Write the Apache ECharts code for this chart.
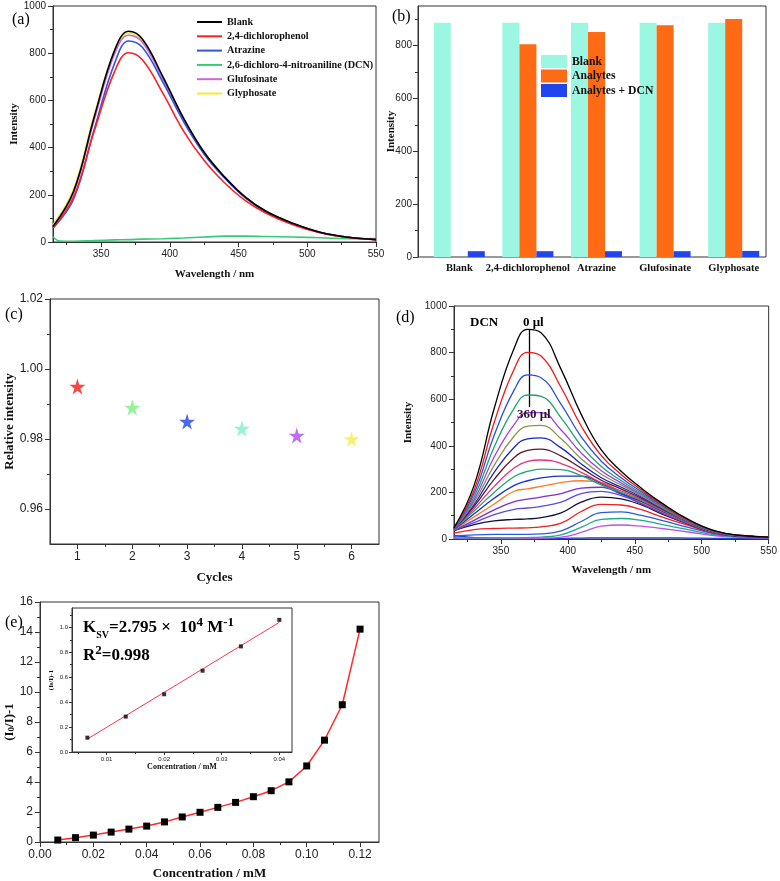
<!DOCTYPE html>
<html><head><meta charset="utf-8">
<script src="https://cdn.jsdelivr.net/npm/echarts@6/dist/echarts.min.js"></script>
<style>html,body{margin:0;padding:0;background:#fff}#c{width:780px;height:881px}</style>
</head><body><div id="c"></div>
<script>
// ---------- DATA ----------
// (a) emission spectra
const wlA = [315,330,345,360,370,380,395,410,425,440,455,470,490,510,530,550];
const blankA = [66,215,530,815,893,860,700,525,380,275,190,130,78,40,20,10];
const dcpA   = [60,190,470,725,802,772,630,470,345,250,175,122,72,38,19,10];
const atzA   = [58,182,478,760,852,825,676,510,372,270,187,128,76,39,20,10];
const glufA  = [64,208,518,800,876,846,690,518,376,272,188,129,77,40,20,10];
const glyA   = [72,225,540,810,885,852,693,520,377,273,189,130,77,40,20,10];
const wlDcnA = [315,320,330,345,360,370,380,395,410,425,440,455,470,490,510,530,550];
const dcnA   = [22,4,3,6,9,10,12,14,17,21,25,25,23,21,18,14,15];
const namesA = ['Blank','2,4-dichlorophenol','Atrazine','2,6-dichloro-4-nitroaniline (DCN)','Glufosinate','Glyphosate'];

// (b) bars
const catsB = ['Blank','2,4-dichlorophenol','Atrazine','Glufosinate','Glyphosate'];
const blankB = [887,887,887,887,887];
const analytesB = [null,805,852,877,901];
const dcnB = [22,22,22,22,23];

// (c) recyclability
const cyclesC = [1,2,3,4,5,6];
const relIntC = [0.995,0.989,0.985,0.983,0.981,0.980];

// (d) titration spectra (0 -> 360 ul DCN)
const wlD = [315,330,345,360,370,380,395,410,425,440,455,470,490,510,530,550];
const titrD = [
  [48,230,560,820,900,885,728,535,382,290,218,155,84,35,15,8],
  [47,210,500,730,801,785,650,485,358,276,210,150,81,34,15,8],
  [46,195,445,640,704,692,578,438,334,262,203,146,79,33,14,8],
  [45,180,395,562,618,612,520,400,311,250,196,142,78,32,14,8],
  [45,168,352,492,542,542,468,369,293,240,190,139,77,31,14,8],
  [44,158,316,442,484,488,430,344,278,231,185,136,76,31,14,8],
  [44,148,286,394,430,434,391,322,263,222,180,133,75,30,14,8],
  [43,140,256,350,380,386,356,304,252,214,175,130,74,30,14,8],
  [42,130,226,306,333,339,324,286,241,206,170,127,73,30,13,8],
  [41,120,200,268,290,300,298,272,232,199,166,124,72,29,13,8],
  [40,108,175,230,250,262,270,270,238,196,161,121,71,29,13,8],
  [39,95,150,205,215,226,242,250,243,198,158,118,70,28,13,8],
  [38,80,125,160,171,180,195,218,222,192,154,114,67,27,13,8],
  [37,70,105,127,133,140,158,195,204,186,151,112,66,27,13,8],
  [36,62,78,84,86,92,112,158,180,172,146,108,64,26,12,8],
  [25,40,45,47,48,52,68,118,149,146,126,95,58,24,12,7],
  [12,18,20,20,20,22,35,75,113,116,101,80,50,22,10,6],
  [6,5,5,5,6,8,18,50,84,88,80,63,40,18,9,5],
  [3,2,2,2,2,3,8,28,55,60,55,45,30,14,7,4],
  [15,6,4,3,3,3,3,4,5,5,5,5,4,3,3,3]
];
const colorsD = ['#000000','#F01818','#2A4FE0','#22A06E','#A040E0','#8C9450','#1428C8','#5A1A2A','#E8307A','#20A868','#1434C8','#FF7A28','#7A30D0','#5A4AE8','#101040','#EE2222','#2A5AE0','#22A890','#C050F0','#2040D0'];
const arrowWl = 371, arrowFrom = 900, arrowTo = 566;

// (e) Stern-Volmer
const concE = [0.00667,0.01333,0.02,0.02667,0.03333,0.04,0.04667,0.05333,0.06,0.06667,0.07333,0.08,0.08667,0.09333,0.1,0.10667,0.11333,0.12];
const quenchE = [0.13,0.29,0.46,0.66,0.86,1.06,1.34,1.67,1.98,2.31,2.64,3.02,3.42,4.01,5.07,6.79,9.15,14.19];
const concIn = [0.00667,0.01333,0.02,0.02667,0.03333,0.04];
const quenchIn = [0.115,0.284,0.463,0.652,0.847,1.06];
const fitX = [0.00667,0.04];
const fitY = [0.104,1.04];

// tick values
const tkA_x=[350,400,450,500,550], mnA_x=[325,375,425,475,525];
const tkA_y=[0,200,400,600,800,1000], mnA_y=[100,300,500,700,900];
const tkB_y=[0,200,400,600,800], mnB_y=[100,300,500,700,900];
const tkC_x=[1,2,3,4,5,6], mnC_x=[1.5,2.5,3.5,4.5,5.5];
const tkC_y=[0.96,0.98,1.00,1.02], mnC_y=[0.97,0.99,1.01];
const tkE_x=[0,0.02,0.04,0.06,0.08,0.10,0.12], mnE_x=[0.01,0.03,0.05,0.07,0.09,0.11];
const tkE_y=[0,2,4,6,8,10,12,14,16], mnE_y=[1,3,5,7,9,11,13,15];
const tkI_x=[0.01,0.02,0.03,0.04], mnI_x=[0.005,0.015,0.025,0.035];
const tkI_y=[0,0.2,0.4,0.6,0.8,1.0], mnI_y=[0.1,0.3,0.5,0.7,0.9,1.1];

// ---------- CHART ----------
const SANS = 'Liberation Sans, Arial, sans-serif';
const SERIF = 'Liberation Serif, Times New Roman, serif';
const AX = '#333';
const xAxes = [], yAxes = [];
const plain = v => String(v);
function addAxes(list, dim, o) {
  const major = {
    type: 'value', gridIndex: o.grid, min: o.min, max: o.max,
    position: dim === 'x' ? 'bottom' : 'left',
    axisLine: {show: true, onZero: false, lineStyle: {color: AX, width: 1}},
    axisTick: {show: true, inside: false, length: o.tl || 5, customValues: o.major, lineStyle: {color: AX, width: 1}},
    axisLabel: {customValues: o.major, fontSize: o.fs, fontFamily: SANS, color: '#222', margin: o.margin || 7, formatter: o.fmt || plain},
    splitLine: {show: false},
    name: o.name, nameLocation: 'middle', nameGap: o.nameGap,
    nameTextStyle: {fontFamily: SERIF, fontWeight: 'bold', fontSize: o.nameFs, color: '#111', rich: o.rich}
  };
  if (o.noMove) major.nameMoveOverlap = false;
  list.push(major);
  const idx = list.length - 1;
  list.push({
    type: 'value', gridIndex: o.grid, min: o.min, max: o.max,
    position: dim === 'x' ? 'bottom' : 'left',
    axisLine: {show: false, onZero: false},
    axisTick: {show: true, inside: false, length: o.mtl || 3, customValues: o.minor, lineStyle: {color: AX, width: 1}},
    axisLabel: {show: false}, splitLine: {show: false}
  });
  return idx;
}
const grids = [
  {left:53, top:6, width:323, height:236},    // 0 a
  {left:418, top:6, width:348, height:251},   // 1 b frame
  {left:425, top:6, width:343, height:251},   // 2 b bars
  {left:50, top:299, width:329, height:245},  // 3 c
  {left:454, top:306, width:316, height:233}, // 4 d
  {left:40, top:602, width:339, height:242},  // 5 e
  {left:72, top:608, width:220, height:144}   // 6 inset
].map((g, i) => Object.assign({show: i !== 2, borderColor: AX, borderWidth: 1, backgroundColor: i === 6 ? '#fff' : 'transparent', containLabel: false}, g));

const subRich = {a: {fontFamily: SERIF, fontWeight: 'bold', fontSize: 13, color: '#111'}, s: {fontFamily: SERIF, fontWeight: 'bold', fontSize: 9, color: '#111', verticalAlign: 'bottom'}};
const subRichS = {a: {fontFamily: SERIF, fontWeight: 'bold', fontSize: 7, color: '#111'}, s: {fontFamily: SERIF, fontWeight: 'bold', fontSize: 5, color: '#111'}};

// (a)
const axA = addAxes(xAxes, 'x', {grid:0, min:315, max:550, major:tkA_x, minor:mnA_x, fs:10, name:'Wavelength / nm', nameGap:27, nameFs:11});
const ayA = addAxes(yAxes, 'y', {grid:0, min:0, max:1000, major:tkA_y, minor:mnA_y, fs:10, name:'Intensity', nameGap:26, nameFs:11});
// (b)
xAxes.push({type:'value', gridIndex:1, min:0, max:1, show:false});
const ayB = addAxes(yAxes, 'y', {grid:1, min:0, max:950, major:tkB_y, minor:mnB_y, fs:10, margin:6, name:'Intensity', nameGap:21, nameFs:11, noMove:true});
xAxes.push({type:'category', gridIndex:2, data:catsB, axisLine:{show:false}, axisTick:{show:false},
  axisLabel:{interval:0, fontFamily:SERIF, fontWeight:'bold', fontSize:10.5, color:'#111', margin:6}});
const axB = xAxes.length - 1;
yAxes.push({type:'value', gridIndex:2, min:0, max:950, show:false});
const ayB2 = yAxes.length - 1;
// (c)
const axC = addAxes(xAxes, 'x', {grid:3, min:0.5, max:6.5, major:tkC_x, minor:mnC_x, fs:12, name:'Cycles', nameGap:27, nameFs:13});
const ayC = addAxes(yAxes, 'y', {grid:3, min:0.95, max:1.02, major:tkC_y, minor:mnC_y, fs:12, fmt: v => v.toFixed(2), name:'Relative intensity', nameGap:32, nameFs:13});
// (d)
const axD = addAxes(xAxes, 'x', {grid:4, min:315, max:550, major:tkA_x, minor:mnA_x, fs:10, name:'Wavelength / nm', nameGap:26, nameFs:11});
const ayD = addAxes(yAxes, 'y', {grid:4, min:0, max:1000, major:tkA_y, minor:mnA_y, fs:10, name:'Intensity', nameGap:40, nameFs:11});
// (e)
const axE = addAxes(xAxes, 'x', {grid:5, min:0, max:0.1271, major:tkE_x, minor:mnE_x, fs:12, fmt: v => v.toFixed(2), name:'Concentration / mM', nameGap:25, nameFs:13});
const ayE = addAxes(yAxes, 'y', {grid:5, min:0, max:16, major:tkE_y, minor:mnE_y, fs:12, name:'{a|(I}{s|0}{a|/I)-1}', nameGap:21, nameFs:13, rich: subRich});
// inset
const axI = addAxes(xAxes, 'x', {grid:6, min:0.004, max:0.0422, major:tkI_x, minor:mnI_x, fs:6, tl:3, mtl:2, margin:4, fmt: v => v.toFixed(2), name:'Concentration / mM', nameGap:9, nameFs:8});
const ayI = addAxes(yAxes, 'y', {grid:6, min:0, max:1.155, major:tkI_y, minor:mnI_y, fs:6, tl:3, mtl:2, margin:4, fmt: v => v.toFixed(1), name:'{a|(I}{s|0}{a|/I)-1}', nameGap:17, nameFs:7, rich: subRichS});

const pairs = (xs, ys) => xs.map((x, i) => [x, ys[i]]);
const series = [];
// (a) series
const colA = ['#000000','#FF2020','#3355DD','#33CC77','#CC66DD','#EEEE33'];
const dataA = [pairs(wlA, blankA), pairs(wlA, dcpA), pairs(wlA, atzA), pairs(wlDcnA, dcnA), pairs(wlA, glufA), pairs(wlA, glyA)];
[3,5,4,2,1,0].forEach(i => {
  series.push({type:'line', name:namesA[i], xAxisIndex:axA, yAxisIndex:ayA, data:dataA[i], showSymbol:false, smooth:0.4,
    lineStyle:{color:colA[i], width:1.6}, itemStyle:{color:colA[i]}, z: 3 + (5 - i)});
});
// (b) series
const colB = ['#9CF7E2','#FF6A14','#2244EE'];
[['Blank ', blankB], ['Analytes', analytesB], ['Analytes + DCN', dcnB]].forEach((s, i) => {
  series.push({type:'bar', name:s[0], xAxisIndex:axB, yAxisIndex:ayB2, data:s[1], barWidth:17, barGap:'0%', itemStyle:{color:colB[i]}});
});
// (c) stars
const colC = ['#F01818','#7CF07C','#2044E8','#7CF0C8','#B048F0','#F0F050'];
const STAR = 'path://M50,0 L61,35 L98,35 L68,57 L79,91 L50,70 L21,91 L32,57 L2,35 L39,35 Z';
series.push({type:'scatter', xAxisIndex:axC, yAxisIndex:ayC, symbol:STAR, symbolSize:16,
  data: cyclesC.map((c, i) => ({value:[c, relIntC[i]], itemStyle:{color:colC[i]}}))});
// (d) titration
titrD.forEach((arr, i) => {
  const s = {type:'line', name:'d' + i, xAxisIndex:axD, yAxisIndex:ayD, data:pairs(wlD, arr), showSymbol:false, smooth:0.45,
    lineStyle:{color:colorsD[i], width:1.3}, itemStyle:{color:colorsD[i]}, z: 30 - i};
  if (i === 0) s.markLine = {silent:true, symbol:['none','arrow'], symbolSize:[0,8], label:{show:false},
    lineStyle:{color:'#000', width:1.3, type:'solid'}, data:[[{coord:[arrowWl, arrowFrom]}, {coord:[arrowWl, arrowTo]}]]};
  series.push(s);
});
// (e)
series.push({type:'line', xAxisIndex:axE, yAxisIndex:ayE, data:pairs(concE, quenchE), symbol:'rect', symbolSize:7,
  lineStyle:{color:'#FF2A2A', width:1.5}, itemStyle:{color:'#000'}});
series.push({type:'line', xAxisIndex:axI, yAxisIndex:ayI, data:pairs(fitX, fitY), showSymbol:false,
  lineStyle:{color:'#FF3355', width:1}, z:5});
series.push({type:'scatter', xAxisIndex:axI, yAxisIndex:ayI, data:pairs(concIn, quenchIn), symbol:'rect', symbolSize:4,
  itemStyle:{color:'#000'}, z:6});

const txt = (x, y, text, font, fill, extra) => ({type:'text', x, y, z:100, style:Object.assign({text, font, fill: fill || '#000', verticalAlign:'middle', align:'left'}, extra || {})});
const option = {
  animation: false,
  backgroundColor: '#fff',
  grid: grids,
  xAxis: xAxes,
  yAxis: yAxes,
  legend: [
    {left:197, top:16, padding:0, orient:'vertical', selectedMode:false, icon:'rect', itemWidth:25, itemHeight:2, itemGap:2.3,
      data:namesA, textStyle:{fontFamily:SERIF, fontWeight:'bold', fontSize:10.2, lineHeight:12, color:'#111'}},
    {left:541, top:55, padding:0, orient:'vertical', selectedMode:false, icon:'rect', itemWidth:26, itemHeight:13, itemGap:1.5,
      data:['Blank ','Analytes','Analytes + DCN'], textStyle:{fontFamily:SERIF, fontWeight:'bold', fontSize:11.7, lineHeight:13, color:'#111'}}
  ],
  series,
  graphic: [
    txt(12, 20, '(a)', '16px ' + SERIF),
    txt(392, 17, '(b)', '16px ' + SERIF),
    txt(5, 315, '(c)', '16px ' + SERIF),
    txt(396, 318, '(d)', '16px ' + SERIF),
    txt(5, 623, '(e)', '16px ' + SERIF),
    txt(470, 323, 'DCN', 'bold 13px ' + SERIF),
    txt(523, 323, '0 μl', 'bold 13px ' + SERIF),
    txt(517, 415, '360 μl', 'bold 13px ' + SERIF, '#301030'),
    {type:'text', x:83, y:628, z:100, style:{text:'{b|K}{s|SV}{b|=2.795 ×  10}{p|4}{b| M}{p|-1}', verticalAlign:'middle', align:'left',
      rich:{b:{font:'bold 17px ' + SERIF, fill:'#000', lineHeight:24, verticalAlign:'middle'},
            s:{font:'bold 10px ' + SERIF, fill:'#000', lineHeight:24, verticalAlign:'bottom'},
            p:{font:'bold 13px ' + SERIF, fill:'#000', lineHeight:24, verticalAlign:'top'}}}},
    {type:'text', x:83, y:656, z:100, style:{text:'{b|R}{p|2}{b|=0.998}', verticalAlign:'middle', align:'left',
      rich:{b:{font:'bold 17px ' + SERIF, fill:'#000', lineHeight:24, verticalAlign:'middle'},
            p:{font:'bold 13px ' + SERIF, fill:'#000', lineHeight:24, verticalAlign:'top'}}}}
  ]
};
const chart = echarts.init(document.getElementById('c'), null, {renderer:'canvas'});
chart.setOption(option);
</script>
</body></html>
